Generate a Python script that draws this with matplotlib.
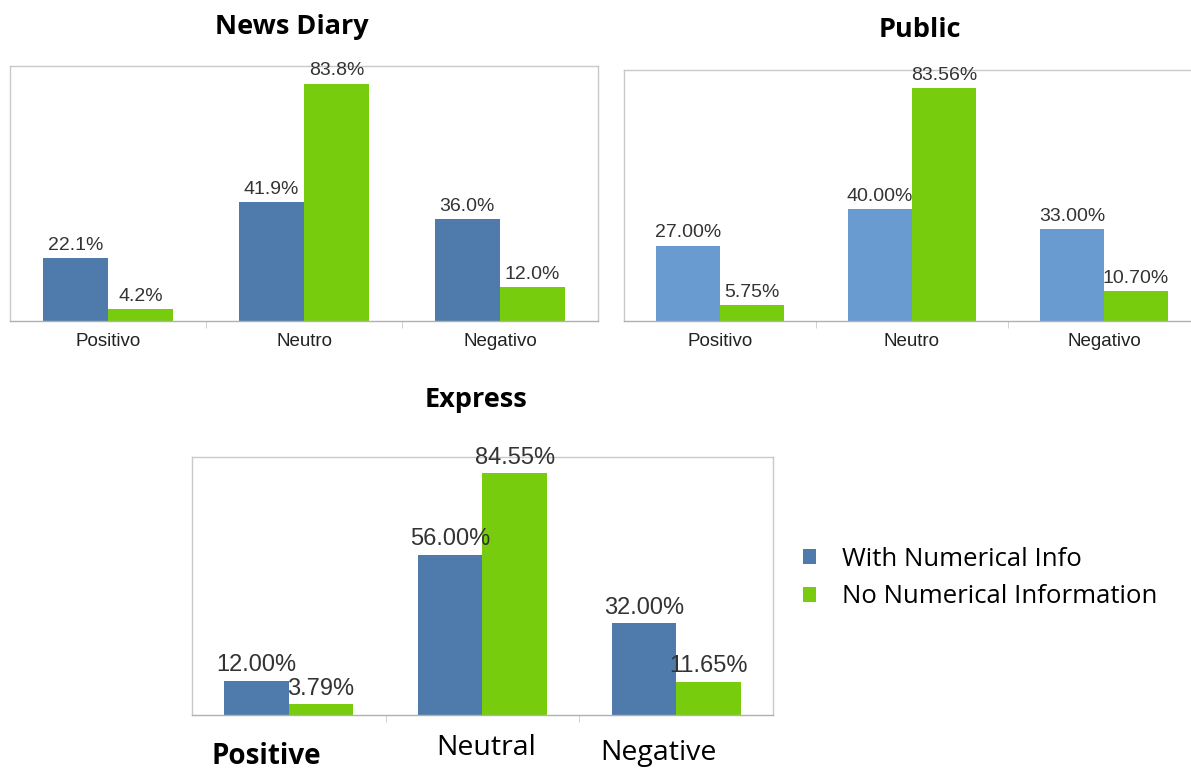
import matplotlib.pyplot as plt
import numpy as np

# values (percent)
cats_pt = ["Positivo", "Neutro", "Negativo"]
cats_en = ["Positive", "Neutral", "Negative"]

diary_with = [22.1, 41.9, 36.0]
diary_without = [4.2, 83.8, 12.0]
diary_labels_with = ["22.1%", "41.9%", "36.0%"]
diary_labels_without = ["4.2%", "83.8%", "12.0%"]

public_with = [27.00, 40.00, 33.00]
public_without = [5.75, 83.56, 10.70]
public_labels_with = ["27.00%", "40.00%", "33.00%"]
public_labels_without = ["5.75%", "83.56%", "10.70%"]

express_with = [12.00, 56.00, 32.00]
express_without = [3.79, 84.55, 11.65]
express_labels_with = ["12.00%", "56.00%", "32.00%"]
express_labels_without = ["3.79%", "84.55%", "11.65%"]

series_names = ["With Numerical Info", "No Numerical Information"]

BLUE = "#4f7bac"
BLUE_LIGHT = "#6a9bd0"
GREEN = "#77cc0e"
SPINE = "#c9c9c9"
LABEL_FONT = "Liberation Sans"
TITLE_FONT = "Open Sans"


def bar_panel(ax, with_vals, without_vals, lab_with, lab_without, blue, fs):
    x = np.arange(len(with_vals))
    w = 1 / 3
    b1 = ax.bar(x - w / 2, with_vals, w, color=blue)
    b2 = ax.bar(x + w / 2, without_vals, w, color=GREEN)
    for bars, labs in ((b1, lab_with), (b2, lab_without)):
        for rect, lab in zip(bars, labs):
            ax.annotate(lab, (rect.get_x() + rect.get_width() / 2, rect.get_height()),
                        xytext=(0, 3), textcoords="offset points", ha="center", va="bottom",
                        fontsize=fs, family=LABEL_FONT, color="#333333")
    ax.set_xlim(-0.5, 2.5)
    ax.set_ylim(0, 90)
    ax.set_yticks([])
    ax.set_xticks(x)
    ax.set_xticks([0.5, 1.5], minor=True)
    ax.tick_params(axis="x", which="major", length=0, pad=9)
    ax.tick_params(axis="x", which="minor", length=5, color=SPINE)
    for s in ax.spines.values():
        s.set_color(SPINE)
        s.set_linewidth(1.0)
    ax.spines["bottom"].set_color("#b0b0b0")
    return b1, b2


fig = plt.figure(figsize=(11.91, 7.71), dpi=100)

ax1 = fig.add_axes([0.0084, 0.5837, 0.4937, 0.3307])
bar_panel(ax1, diary_with, diary_without, diary_labels_with, diary_labels_without, BLUE, 14)
ax1.set_xticklabels(cats_pt, fontsize=13.5, family=LABEL_FONT, color="#222222")

ax2 = fig.add_axes([0.5239, 0.5837, 0.4836, 0.3256])
bar_panel(ax2, public_with, public_without, public_labels_with, public_labels_without, BLUE_LIGHT, 14)
ax2.set_xticklabels(cats_pt, fontsize=13.5, family=LABEL_FONT, color="#222222")

ax3 = fig.add_axes([0.1612, 0.0726, 0.4878, 0.3346])
h1, h2 = bar_panel(ax3, express_with, express_without, express_labels_with, express_labels_without, BLUE, 17)
ax3.set_xticklabels(["", "", ""])

# titles
fig.text(292 / 1191, 1 - 27 / 771, "News Diary", ha="center", va="center",
         fontsize=19.5, fontweight="bold", family=TITLE_FONT)
fig.text(920 / 1191, 1 - 30 / 771, "Public", ha="center", va="center",
         fontsize=19.5, fontweight="bold", family=TITLE_FONT)
fig.text(476 / 1191, 1 - 400 / 771, "Express", ha="center", va="center",
         fontsize=19.5, fontweight="bold", family=TITLE_FONT)

# category labels for the Express panel
fig.text(266 / 1191, 1 - 756 / 771, cats_en[0], ha="center", va="center",
         fontsize=20, fontweight="bold", family=TITLE_FONT)
fig.text(486 / 1191, 1 - 748 / 771, cats_en[1], ha="center", va="center",
         fontsize=20.5, family=TITLE_FONT)
fig.text(658 / 1191, 1 - 753 / 771, cats_en[2], ha="center", va="center",
         fontsize=20.5, family=TITLE_FONT)

fig.legend([h1, h2], series_names, loc="center left",
           bbox_to_anchor=(780 / 1191, 1 - 578 / 771), frameon=False,
           handlelength=0.5, handleheight=0.5, handletextpad=1.0,
           labelspacing=0.5, prop={"family": TITLE_FONT, "size": 18.5})

fig.savefig("out.png", dpi=100)
